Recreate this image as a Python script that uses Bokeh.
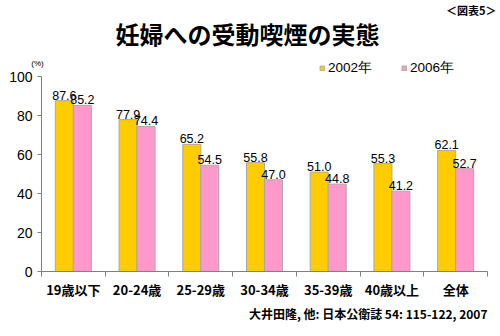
from bokeh.plotting import figure
from bokeh.models import (ColumnDataSource, Range1d, FixedTicker, Label, Legend, LegendItem,
                          LinearAxis)
from bokeh.core.properties import value
from bokeh.embed import file_html
from bokeh.resources import INLINE

categories = ["19歳以下", "20-24歳", "25-29歳", "30-34歳", "35-39歳", "40歳以上", "全体"]
values_2002 = [87.6, 77.9, 65.2, 55.8, 51.0, 55.3, 62.1]
values_2006 = [85.2, 74.4, 54.5, 47.0, 44.8, 41.2, 52.7]
series_names = ["2002年", "2006年"]
y_ticks = [0, 20, 40, 60, 80, 100]

W, H = 500, 336
# pixel placement of the axes within the canvas
PX0, PX1 = 41, 487      # x = 0 and x = 7
PY0, PY100 = 271, 76    # y = 0 and y = 100
n = len(categories)
ux = (PX1 - PX0) / n
uy = (PY0 - PY100) / 100.0
x_range = Range1d(-PX0 / ux, n + (W - PX1) / ux)
y_range = Range1d(-(H - PY0) / uy, 100 + PY100 / uy)

JP = "Noto Sans CJK JP"
p = figure(width=W, height=H, output_backend="svg", toolbar_location=None, title=None,
           x_range=x_range, y_range=y_range, x_axis_type=None, y_axis_type=None,
           min_border=0, min_border_left=0, min_border_right=0, min_border_top=0, min_border_bottom=0)
p.outline_line_color = None
p.grid.visible = False
p.background_fill_color = "white"
p.border_fill_color = "white"

centers = [i + 0.5 for i in range(n)]
bw = 0.283
off = 0.141
src = ColumnDataSource(dict(
    x1=[c - off for c in centers], x2=[c + off for c in centers],
    v1=values_2002, v2=values_2006,
    t1=[f"{v:.1f}" for v in values_2002], t2=[f"{v:.1f}" for v in values_2006]))

r1 = p.vbar(x="x1", top="v1", width=bw, source=src, fill_color="#FFCC00", line_color="#A8A8A8", line_width=1)
r2 = p.vbar(x="x2", top="v2", width=bw, source=src, fill_color="#FF99CC", line_color="#A8A8A8", line_width=1)

for xs, ys, ts in (("x1", "v1", "t1"), ("x2", "v2", "t2")):
    p.text(x=xs, y=ys, text=ts, source=src, text_align="center", text_baseline="bottom",
           y_offset=-1, text_font_size="12.5px", text_font=value("Liberation Sans"), text_color="black")

# axes (fixed at data 0, bounded)
xa = LinearAxis(fixed_location=0, bounds=(0, n))
xa.ticker = FixedTicker(ticks=centers, minor_ticks=list(range(n + 1)))
xa.major_label_overrides = {c: cat for c, cat in zip(centers, categories)}
xa.major_tick_out = 0
xa.major_tick_in = 0
xa.minor_tick_out = 5
xa.minor_tick_in = 0
xa.minor_tick_line_color = "#808080"
xa.axis_line_color = "#808080"
xa.major_label_standoff = 3
xa.major_label_text_font = JP
xa.major_label_text_font_style = "bold"
xa.major_label_text_font_size = "13px"
xa.major_label_text_color = "black"
p.add_layout(xa, "below")

ya = LinearAxis(fixed_location=0, bounds=(0, 100))
ya.ticker = FixedTicker(ticks=y_ticks, minor_ticks=[])
ya.axis_line_color = "#808080"
ya.major_tick_line_color = "#808080"
ya.major_tick_out = 4
ya.major_tick_in = 0
ya.major_label_standoff = 5
ya.major_label_text_font = "Liberation Sans"
ya.major_label_text_font_size = "14px"
ya.major_label_text_color = "black"
p.add_layout(ya, "left")

def lbl(cx, cy, text, size, align="center", bold=False, font=JP):
    p.add_layout(Label(x=cx, y=H - cy, x_units="screen", y_units="screen", text=text,
                       text_align=align, text_baseline="middle", text_font=font,
                       text_font_style="bold" if bold else "normal",
                       text_font_size=size, text_color="black"))

lbl(247, 33, "妊婦への受動喫煙の実態", "24px", bold=True)
lbl(496, 9, "＜図表5＞", "11px", align="right", bold=True)
lbl(37, 63, "(%)", "8px", font="Liberation Sans")
lbl(487, 313, "大井田隆, 他: 日本公衛誌 54: 115-122, 2007", "12px", align="right", bold=True)

legend = Legend(items=[LegendItem(label=series_names[0], renderers=[r1]),
                       LegendItem(label=series_names[1], renderers=[r2])],
                orientation="horizontal", location=(319, H - 77),
                glyph_width=6, glyph_height=6, label_standoff=3, spacing=29,
                padding=0, margin=0, border_line_color=None, background_fill_alpha=0,
                label_text_font="Liberation Sans", label_text_font_size="13.5px",
                label_text_color="black", label_height=14)
p.add_layout(legend)

open("out.html", "w").write(file_html(p, INLINE))
